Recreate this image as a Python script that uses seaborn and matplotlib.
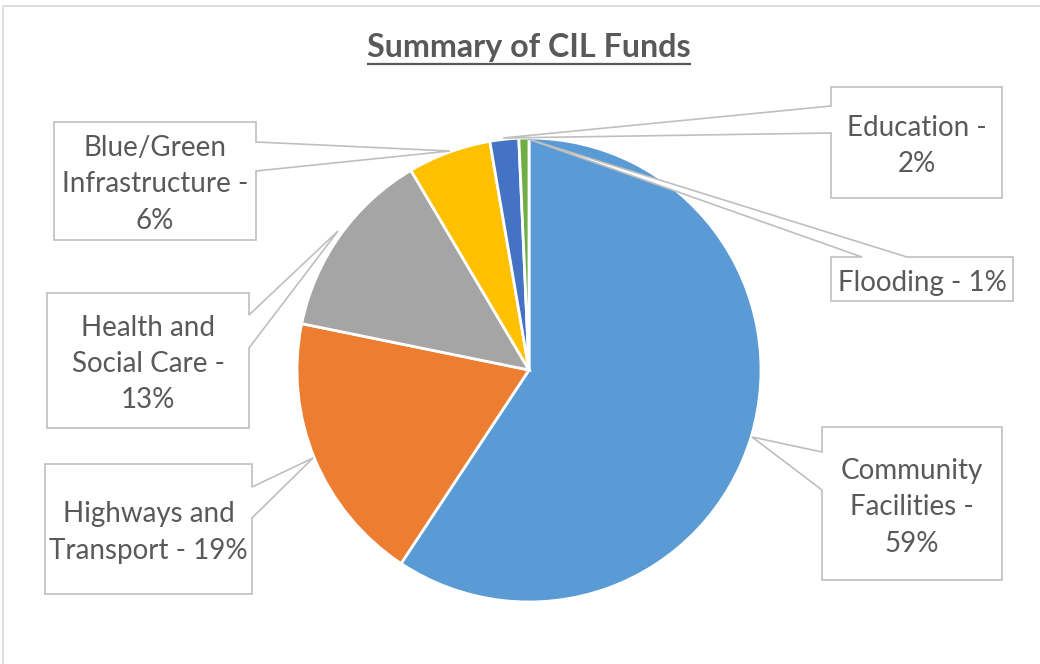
import matplotlib
matplotlib.use("Agg")
import matplotlib.pyplot as plt
from matplotlib.patches import Polygon
import seaborn as sns

# data (percent of CIL funds)
categories = ["Community Facilities", "Highways and Transport", "Health and Social Care",
              "Blue/Green Infrastructure", "Education", "Flooding"]
shares = [59.3, 18.9, 13.3, 5.8, 2.0, 0.7]
label_text = ["Community\nFacilities -\n59%", "Highways and\nTransport - 19%",
              "Health and\nSocial Care -\n13%", "Blue/Green\nInfrastructure -\n6%",
              "Education -\n2%", "Flooding - 1%"]
title = "Summary of CIL Funds"
slice_colors = ["#5B9BD5", "#ED7D31", "#A5A5A5", "#FFC000", "#4472C4", "#70AD47"]

sns.set_theme(style="white")
plt.rcParams['font.family'] = ['Lato', 'DejaVu Sans']
palette = sns.color_palette(slice_colors)

W, H = 1040, 664
fig = plt.figure(figsize=(W / 100, H / 100), dpi=100)
ax = fig.add_axes([0, 0, 1, 1])

# pie in pixel coordinates (y axis flipped so start at top and go clockwise)
ax.pie(shares, colors=palette, center=(529, 370), radius=232,
       startangle=-90, counterclock=True,
       wedgeprops=dict(edgecolor="white", linewidth=2))
ax.set_xlim(0, W)
ax.set_ylim(H, 0)
ax.set_aspect("equal")
ax.axis("off")

# chart frame (only top/left visible in the crop)
ax.plot([3, 3, W + 5], [H + 5, 6, 6], color="#D9D9D9", lw=1.2, clip_on=False)

# callout boxes: box (x0, y0, x1, y1), side of pointer, pointer base, pointer tip
callouts = [
    ((822, 427, 1002, 580), "left", (452, 490), (752, 437)),
    ((45, 464, 252, 594), "right", (487, 518), (313, 458)),
    ((47, 293, 249, 428), "right", (315, 348), (338, 231)),
    ((54, 122, 256, 240), "right", (142, 171), (450, 151)),
    ((831, 87, 1002, 198), "left", (106, 133), (503, 138)),
    ((831, 257, 1013, 301), "top", (862, 907), (528, 139)),
]


def callout_shape(box, side, base, tip):
    x0, y0, x1, y1 = box
    b1, b2 = base
    if side == "left":
        return [(x0, y0), (x1, y0), (x1, y1), (x0, y1), (x0, b2), tip, (x0, b1)]
    if side == "right":
        return [(x0, y0), (x1, y0), (x1, b1), tip, (x1, b2), (x1, y1), (x0, y1)]
    return [(x0, y0), (b1, y0), tip, (b2, y0), (x1, y0), (x1, y1), (x0, y1)]


for text, (box, side, base, tip) in zip(label_text, callouts):
    poly = Polygon(callout_shape(box, side, base, tip), closed=True,
                   facecolor="white", edgecolor="#BFBFBF", lw=1.2, zorder=5)
    ax.add_patch(poly)
    ax.text((box[0] + box[2]) / 2, (box[1] + box[3]) / 2 + 3.5, text,
            ha="center", va="center", fontsize=20, color="#595959",
            linespacing=1.5, zorder=6)

t = ax.text(529, 48, title, ha="center", va="center", fontsize=23.2,
            fontweight="bold", color="#595959")

# underline the title
fig.canvas.draw()
bb = t.get_window_extent().transformed(ax.transData.inverted())
ax.plot([bb.x0, bb.x1], [64, 64], color="#595959", lw=1.6, solid_capstyle="butt")

fig.savefig("out.png", dpi=100)
